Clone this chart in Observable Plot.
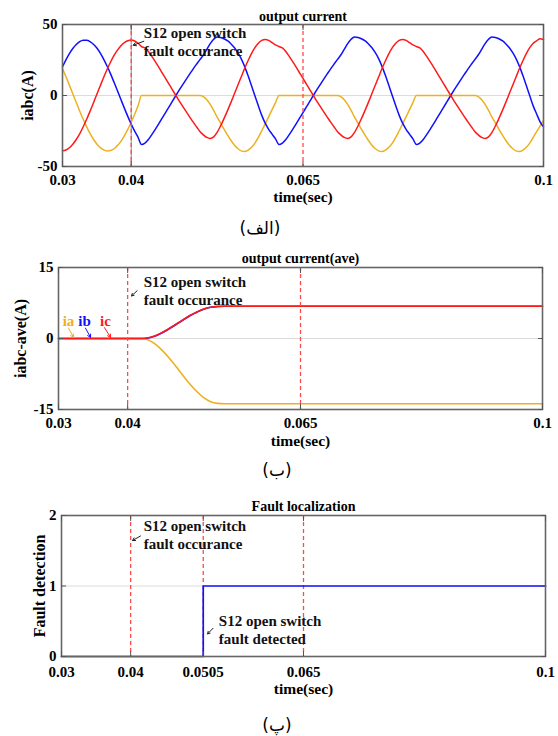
<!DOCTYPE html>
<html>
<head>
<meta charset="utf-8">
<script src="https://cdn.jsdelivr.net/npm/d3@7"></script>
<script src="https://cdn.jsdelivr.net/npm/@observablehq/plot@0.6"></script>
<style>
  body { margin: 0; background: #fff; }
  #page { position: relative; width: 558px; height: 736px; overflow: hidden; background: #fff; }
  .panel { position: absolute; left: 0; }
  .cap { position: absolute; font-family: "DejaVu Sans", sans-serif; font-size: 17px; color: #000;
         transform: translate(-50%, -50%); white-space: nowrap; }
</style>
</head>
<body>
<div id="page"></div>
<script>
// ---------- (a) three-phase output currents, sampled every 0.5 ms ----------
const timeMs = [
  30, 30.5, 31, 31.5, 32, 32.5, 33, 33.5, 34, 34.5, 35, 35.5, 36, 36.5, 37, 37.5, 38, 38.5, 39, 39.5, 40, 40.5, 41,
  41.5, 42, 42.5, 43, 43.5, 44, 44.5, 45, 45.5, 46, 46.5, 47, 47.5, 48, 48.5, 49, 49.5, 50,
  50.5, 51, 51.5, 52, 52.5, 53, 53.5, 54, 54.5, 55, 55.5, 56, 56.5, 57, 57.5, 58, 58.5, 59, 59.5, 60, 60.5, 61,
  61.5, 62, 62.5, 63, 63.5, 64, 64.5, 65, 65.5, 66, 66.5, 67, 67.5, 68, 68.5, 69, 69.5, 70,
  70.5, 71, 71.5, 72, 72.5, 73, 73.5, 74, 74.5, 75, 75.5, 76, 76.5, 77, 77.5, 78, 78.5, 79, 79.5, 80, 80.5, 81,
  81.5, 82, 82.5, 83, 83.5, 84, 84.5, 85, 85.5, 86, 86.5, 87, 87.5, 88, 88.5, 89, 89.5, 90,
  90.5, 91, 91.5, 92, 92.5, 93, 93.5, 94, 94.5, 95, 95.5, 96, 96.5, 97, 97.5, 98, 98.5, 99, 99.5, 100
];
const ia = [
  18.8, 13.2, 7.3, 1.2, -4.9, -10.9, -16.6, -21.9, -26.7, -30.8, -34.2, -36.7, -38.3, -39.0, -38.7, -37.5, -35.3, -32.3, -28.4, -23.9, -18.8, -13.2, -7.3,
  0, 0, 0, 0, 0, 0, 0, 0, 0, 0, 0, 0, 0, 0, 0, 0, 0, 0,
  -0.8, -3, -6.3, -10.5, -15.2, -19.4, -23.7, -27.8, -31.5, -34.8, -37.3, -39, -39.5, -38.5, -36.5, -33.5, -29.5, -24.8, -20, -15, -10, -5,
  0, 0, 0, 0, 0, 0, 0, 0, 0, 0, 0, 0, 0, 0, 0, 0, 0, 0,
  -0.8, -3, -6.3, -10.5, -15.2, -19.4, -23.7, -27.8, -31.5, -34.8, -37.3, -39, -39.5, -38.5, -36.5, -33.5, -29.5, -24.8, -20, -15, -10, -5,
  0, 0, 0, 0, 0, 0, 0, 0, 0, 0, 0, 0, 0, 0, 0, 0, 0, 0,
  -0.8, -3, -6.3, -10.5, -15.2, -19.4, -23.7, -27.8, -31.5, -34.8, -37.3, -39, -39.5, -38.5, -36.5, -33.5, -29.5, -25.5, -21.5, -17.5
];
const ib = [
  20.2, 25.1, 29.5, 33.1, 35.9, 37.9, 38.9, 38.9, 38.0, 36.1, 33.4, 29.8, 25.5, 20.6, 15.2, 9.3, 3.3, -2.8, -8.9, -14.7, -20.2, -25.1, -29.5,
  -34.5, -33.5, -31, -27.5, -23.8, -20, -16, -12, -8, -4, 0, 3.9, 7.7, 11.4, 15, 18.6, 22, 25.3,
  28.5, 32.5, 36.5, 39.6, 41.2, 40.9, 40, 38.6, 36.5, 33.8, 30.3, 26, 20.5, 14, 7, -0.2, -7.3, -14, -19.5, -23.8, -27.2, -30.6,
  -34.5, -33.5, -31, -27.5, -23.8, -20, -16, -12, -8, -4, 0, 3.9, 7.7, 11.4, 15, 18.6, 22, 25.3,
  28.5, 32.5, 36.5, 39.6, 41.2, 40.9, 40, 38.6, 36.5, 33.8, 30.3, 26, 20.5, 14, 7, -0.2, -7.3, -14, -19.5, -23.8, -27.2, -30.6,
  -34.5, -33.5, -31, -27.5, -23.8, -20, -16, -12, -8, -4, 0, 3.9, 7.7, 11.4, 15, 18.6, 22, 25.3,
  28.5, 32.5, 36.5, 39.6, 41.2, 40.9, 40, 38.6, 36.5, 33.8, 30.3, 26, 20.5, 14, 7, -0.2, -7.3, -13, -18.5, -22
];
const ic = [
  -39.0, -38.4, -36.8, -34.3, -31.0, -27.0, -22.2, -16.9, -11.2, -5.3, 0.9, 6.9, 12.9, 18.5, 23.6, 28.2, 32.0, 35.1, 37.3, 38.6, 39.0, 38.4, 36.8,
  34.5, 33.5, 31, 27.5, 23.8, 20, 16, 12, 8, 4, 0, -3.9, -7.7, -11.4, -15, -18.6, -22, -25.3,
  -27.7, -29.5, -30.2, -29.1, -26, -21.5, -16.3, -10.8, -5, 1, 7, 13, 19, 24.5, 29.5, 33.7, 36.8, 38.8, 39.5, 38.8, 37.2, 35.6,
  34.5, 33.5, 31, 27.5, 23.8, 20, 16, 12, 8, 4, 0, -3.9, -7.7, -11.4, -15, -18.6, -22, -25.3,
  -27.7, -29.5, -30.2, -29.1, -26, -21.5, -16.3, -10.8, -5, 1, 7, 13, 19, 24.5, 29.5, 33.7, 36.8, 38.8, 39.5, 38.8, 37.2, 35.6,
  34.5, 33.5, 31, 27.5, 23.8, 20, 16, 12, 8, 4, 0, -3.9, -7.7, -11.4, -15, -18.6, -22, -25.3,
  -27.7, -29.5, -30.2, -29.1, -26, -21.5, -16.3, -10.8, -5, 1, 7, 13, 19, 24.5, 29.5, 33.7, 36.8, 38.5, 40, 39.5
];

// ---------- (b) averaged phase currents ----------
const aveTimeMs = [30, 42, 43, 44, 45, 46, 47, 48, 49, 50, 51, 52, 53, 54, 56, 100];
const iaAve = [0, 0, -0.3, -1.2, -2.5, -4.1, -5.9, -7.8, -9.6, -11.2, -12.5, -13.35, -13.7, -13.8, -13.8, -13.8];
const ibAve = [0, 0, 0.12, 0.55, 1.2, 2.05, 2.95, 3.9, 4.8, 5.55, 6.2, 6.6, 6.75, 6.8, 6.8, 6.8];
const icAve = [0, 0, 0.15, 0.6, 1.25, 2.1, 3.0, 3.95, 4.85, 5.6, 6.25, 6.62, 6.77, 6.8, 6.8, 6.8];

// ---------- (c) fault-detection flag ----------
const detectTimeMs = [30, 50.5, 100];
const detectFlag = [0, 1, 1];

// ---------- event markers and tick values ----------
const faultMs = 40, detectMs = 50.5, markMs = 65;
const xTicksAB = [0.03, 0.04, 0.065, 0.1];
const xTicksC = [0.03, 0.04, 0.0505, 0.065, 0.1];
const yTicksA = [-50, 0, 50];
const yTicksB = [-15, 0, 15];
const yTicksC = [0, 1, 2];

const colors = {ia: "#EDB120", ib: "#1010ff", ic: "#ff1a1a"};
const serif = "'Liberation Serif', 'Times New Roman', serif";
const fmt = d => String(d);
const sec = ms => ms / 1000;

function axes(xTicks, yTicks, xPad = 8) {
  const lab = {fontSize: 15, fontWeight: "bold", fill: "#000", tickFormat: fmt, label: null};
  const inner = {tickSize: -5, tickFormat: () => "", label: null, stroke: "#555"};
  return [
    Plot.axisX({ticks: xTicks, anchor: "bottom", tickSize: 0, tickPadding: xPad, ...lab}),
    Plot.axisY({ticks: yTicks, anchor: "left", tickSize: 0, tickPadding: 5, ...lab}),
    Plot.axisX({ticks: xTicks, anchor: "bottom", ...inner}),
    Plot.axisX({ticks: xTicks, anchor: "top", ...inner}),
    Plot.axisY({ticks: yTicks, anchor: "left", ...inner}),
    Plot.axisY({ticks: yTicks, anchor: "right", ...inner})
  ];
}

// title above the frame, x label below, rotated y label centred on yMid
function chrome({title, titleDy, xDy, yLabel, yDx, yMid}) {
  return [
    Plot.frame({stroke: "#666", strokeWidth: 1.6}),
    Plot.text([title], {frameAnchor: "top", dy: titleDy, text: d => d, fontSize: 14, fontWeight: "bold"}),
    Plot.text(["time(sec)"], {frameAnchor: "bottom", dy: xDy, text: d => d, fontSize: 15.5, fontWeight: "bold"}),
    Plot.text([yLabel], {y: () => yMid, frameAnchor: "left", dx: yDx, rotate: -90, text: d => d,
      textAnchor: "middle", fontSize: 16, fontWeight: "bold"})
  ];
}

const eventRule = (times) =>
  Plot.ruleX(times, {x: d => sec(d), stroke: "#ff4a4a", strokeWidth: 1.3, strokeDasharray: "4,3"});

const note = (t, label, anchor, dx, dy) =>
  Plot.text([label], {x: () => sec(t), frameAnchor: anchor, dx, dy, text: d => d, textAnchor: "start",
    lineAnchor: "middle", lineHeight: 1.2, fontSize: 15, fontWeight: "bold", fill: "#111"});

const pointer = (list, stroke = "#222") =>
  Plot.arrow(list, {x1: "x1", y1: "y1", x2: "x2", y2: "y2", stroke, strokeWidth: 1, headLength: 5});

const base = {width: 558, style: `font-family:${serif};background:#fff;overflow:visible`};

// panel (a)
const traces = [["ia", ia], ["ib", ib], ["ic", ic]].map(([k, vals]) =>
  Plot.line(timeMs, {x: (t) => sec(t), y: (t, i) => vals[i], stroke: colors[k], strokeWidth: 1.5, curve: "monotone-x"}));

const plotA = Plot.plot({
  ...base, height: 212, marginLeft: 62, marginRight: 15, marginTop: 24, marginBottom: 46,
  x: {domain: [0.03, 0.1]}, y: {domain: [-50, 50]},
  marks: [
    Plot.ruleY([0], {stroke: "#dcdcdc"}),
    Plot.ruleX([faultMs], {x: d => sec(d), stroke: "#8a8a8a", strokeWidth: 1}),
    ...traces,
    eventRule([faultMs, markMs]),
    ...chrome({title: "output current", titleDy: -13, xDy: 35, yLabel: "iabc(A)", yDx: -35, yMid: 0}),
    ...axes(xTicksAB, yTicksA),
    note(faultMs, "S12 open switch\nfault occurance", "top", 12.5, 17),
    pointer([{x1: 0.04183, y1: 38.2, x2: 0.04029, y2: 35.4}])
  ]
});

// panel (b)
const aveTraces = [["ia", iaAve], ["ib", ibAve], ["ic", icAve]].map(([k, vals]) =>
  Plot.line(aveTimeMs, {x: (t) => sec(t), y: (t, i) => vals[i], stroke: colors[k], strokeWidth: 1.6, curve: "monotone-x"}));

const phaseTags = [
  {label: "ia", x: 0.03145, y: 3.6, x1: 0.03145, y1: 2.2, x2: 0.03217, y2: 0.25},
  {label: "ib", x: 0.03376, y: 3.6, x1: 0.0339, y1: 2.2, x2: 0.03463, y2: 0.25},
  {label: "ic", x: 0.0368, y: 3.6, x1: 0.03665, y1: 2.3, x2: 0.03752, y2: 0.25}
];

const plotB = Plot.plot({
  ...base, height: 215, marginLeft: 58, marginRight: 16, marginTop: 27, marginBottom: 46,
  x: {domain: [0.03, 0.1]}, y: {domain: [-15, 15]},
  marks: [
    Plot.ruleY([0], {stroke: "#dcdcdc"}),
    ...aveTraces,
    eventRule([faultMs, markMs]),
    ...chrome({title: "output current(ave)", titleDy: -14, xDy: 36, yLabel: "iabc-ave(A)", yDx: -38, yMid: 0}),
    ...axes(xTicksAB, yTicksB),
    note(faultMs, "S12 open switch\nfault occurance", "top", 16, 22.4),
    pointer([{x1: 0.04138, y1: 10.1, x2: 0.04056, y2: 9.0}]),
    Plot.text(phaseTags, {x: "x", y: "y", text: "label", fill: d => colors[d.label], fontSize: 15, fontWeight: "bold"}),
    ...phaseTags.map(d => pointer([d], colors[d.label]))
  ]
});

// panel (c)
const plotC = Plot.plot({
  ...base, height: 215, marginLeft: 61, marginRight: 13, marginTop: 25, marginBottom: 49,
  x: {domain: [0.03, 0.1]}, y: {domain: [0, 2]},
  marks: [
    Plot.ruleY([1], {stroke: "#dcdcdc"}),
    eventRule([faultMs, detectMs, markMs]),
    Plot.line(detectTimeMs, {x: (t) => sec(t), y: (t, i) => detectFlag[i], stroke: "#1010ff", strokeWidth: 1.7, curve: "step-after"}),
    ...chrome({title: "Fault localization", titleDy: -14, xDy: 37, yLabel: "Fault detection", yDx: -22, yMid: 1}),
    ...axes(xTicksC, yTicksC, 10),
    note(faultMs, "S12 open switch\nfault occurance", "top", 13, 19),
    pointer([{x1: 0.04143, y1: 1.71, x2: 0.04027, y2: 1.645}]),
    note(detectMs, "S12 open switch\nfault detected", "bottom", 15.6, -27),
    pointer([{x1: 0.05191, y1: 0.40, x2: 0.05112, y2: 0.32}])
  ]
});

const page = document.getElementById("page");
[[plotA, 0], [plotB, 240], [plotC, 490]].forEach(([svg, top]) => {
  svg.classList.add("panel");
  svg.style.top = top + "px";
  svg.style.position = "absolute";
  page.appendChild(svg);
});
[["(الف)", 260, 228], ["(ب)", 277, 470], ["(پ)", 277, 725]].forEach(([txt, x, y]) => {
  const d = document.createElement("div");
  d.className = "cap";
  d.textContent = txt;
  d.style.left = x + "px";
  d.style.top = y + "px";
  page.appendChild(d);
});
</script>
</body>
</html>
